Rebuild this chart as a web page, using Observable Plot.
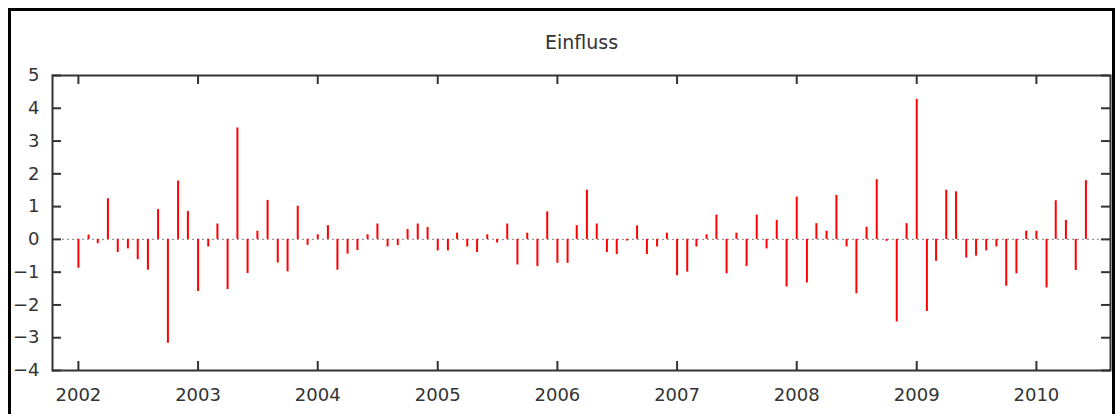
<!DOCTYPE html>
<html><head><meta charset="utf-8">
<script src="https://cdn.jsdelivr.net/npm/d3@7"></script>
<script src="https://cdn.jsdelivr.net/npm/@observablehq/plot@0.6"></script>
<style>
body{margin:0;background:#fff;}
#wrap{position:relative;width:1116px;height:414px;overflow:hidden;background:#fff;}
#border{position:absolute;left:8px;top:8px;width:1107px;height:500px;border:3px solid #000;box-sizing:border-box;pointer-events:none;}
</style></head><body>
<div id="wrap"><div id="chart"></div><div id="border"></div></div>
<script>
const title = "Einfluss";
const years = [2002, 2003, 2004, 2005, 2006, 2007, 2008, 2009, 2010];
const v2002 = [-0.88, 0.13, -0.13, 1.24, -0.40, -0.29, -0.62, -0.94, 0.91, -3.17, 1.78, 0.85];
const v2003 = [-1.59, -0.23, 0.47, -1.53, 3.40, -1.04, 0.25, 1.19, -0.72, -0.99, 1.01, -0.18];
const v2004 = [0.14, 0.42, -0.94, -0.45, -0.34, 0.14, 0.47, -0.23, -0.19, 0.30, 0.47, 0.36];
const v2005 = [-0.35, -0.35, 0.19, -0.23, -0.40, 0.14, -0.11, 0.47, -0.78, 0.19, -0.83, 0.84];
const v2006 = [-0.73, -0.73, 0.42, 1.50, 0.47, -0.40, -0.46, -0.05, 0.41, -0.46, -0.23, 0.19];
const v2007 = [-1.11, -1.00, -0.23, 0.14, 0.74, -1.05, 0.19, -0.83, 0.74, -0.29, 0.58, -1.45];
const v2008 = [1.29, -1.33, 0.48, 0.25, 1.34, -0.23, -1.66, 0.37, 1.82, -0.06, -2.52, 0.48];
const v2009 = [4.27, -2.20, -0.67, 1.50, 1.45, -0.57, -0.51, -0.35, -0.23, -1.43, -1.05, 0.25];
const v2010 = [0.25, -1.48, 1.18, 0.58, -0.95, 1.79];
const yTicks = [-4, -3, -2, -1, 0, 1, 2, 3, 4, 5];
const xTickYears = [2002, 2003, 2004, 2005, 2006, 2007, 2008, 2009, 2010];

const series = [v2002, v2003, v2004, v2005, v2006, v2007, v2008, v2009, v2010];
const data = series.flatMap((vals, i) => vals.map((v, m) => ({date: new Date(Date.UTC(years[i], m, 1)), value: v})));
const xTicks = xTickYears.map(y => new Date(Date.UTC(y, 0, 1)));

const W = 1116, H = 414;
const mL = 52, mR = 6, mT = 75, mB = 44;
const fw = W - mL - mR, fh = H - mT - mB;
const tk = 9;
const font = "DejaVu Sans, Verdana, sans-serif";

const chart = Plot.plot({
  width: W, height: H,
  marginLeft: mL, marginRight: mR, marginTop: mT, marginBottom: mB,
  style: {fontFamily: font, fontSize: "18px", color: "#333", background: "#fff"},
  x: {type: "utc", domain: [new Date(Date.UTC(2001, 9, 14)), new Date(Date.UTC(2010, 7, 15))]},
  y: {domain: [-4, 5]},
  marks: [
    Plot.ruleY([0], {stroke: "#999", strokeWidth: 1.2, strokeDasharray: "2,3"}),
    Plot.ruleX(data, {x: "date", y1: 0, y2: "value", stroke: "#ff0000", strokeWidth: 2}),
    Plot.tickY(yTicks, {y: d => d, insetRight: fw - tk, stroke: "#333", strokeWidth: 2}),
    Plot.tickY(yTicks, {y: d => d, insetLeft: fw - tk, stroke: "#333", strokeWidth: 2}),
    Plot.tickX(xTicks, {x: d => d, insetTop: fh - tk, stroke: "#333", strokeWidth: 2}),
    Plot.tickX(xTicks, {x: d => d, insetBottom: fh - tk, stroke: "#333", strokeWidth: 2}),
    Plot.axisY(yTicks, {anchor: "left", tickSize: 0, tickPadding: 13, fontSize: 18, label: null, fill: "#333"}),
    Plot.axisX(xTicks, {anchor: "bottom", tickSize: 0, tickPadding: 18, fontSize: 18, label: null, tickFormat: d => String(d.getUTCFullYear()), fill: "#333"}),
    Plot.frame({stroke: "#333", strokeWidth: 2}),
    Plot.text([title], {frameAnchor: "top", dy: -40, fontSize: 19, fill: "#333"})
  ]
});
document.getElementById("chart").appendChild(chart);
</script>
</body></html>
